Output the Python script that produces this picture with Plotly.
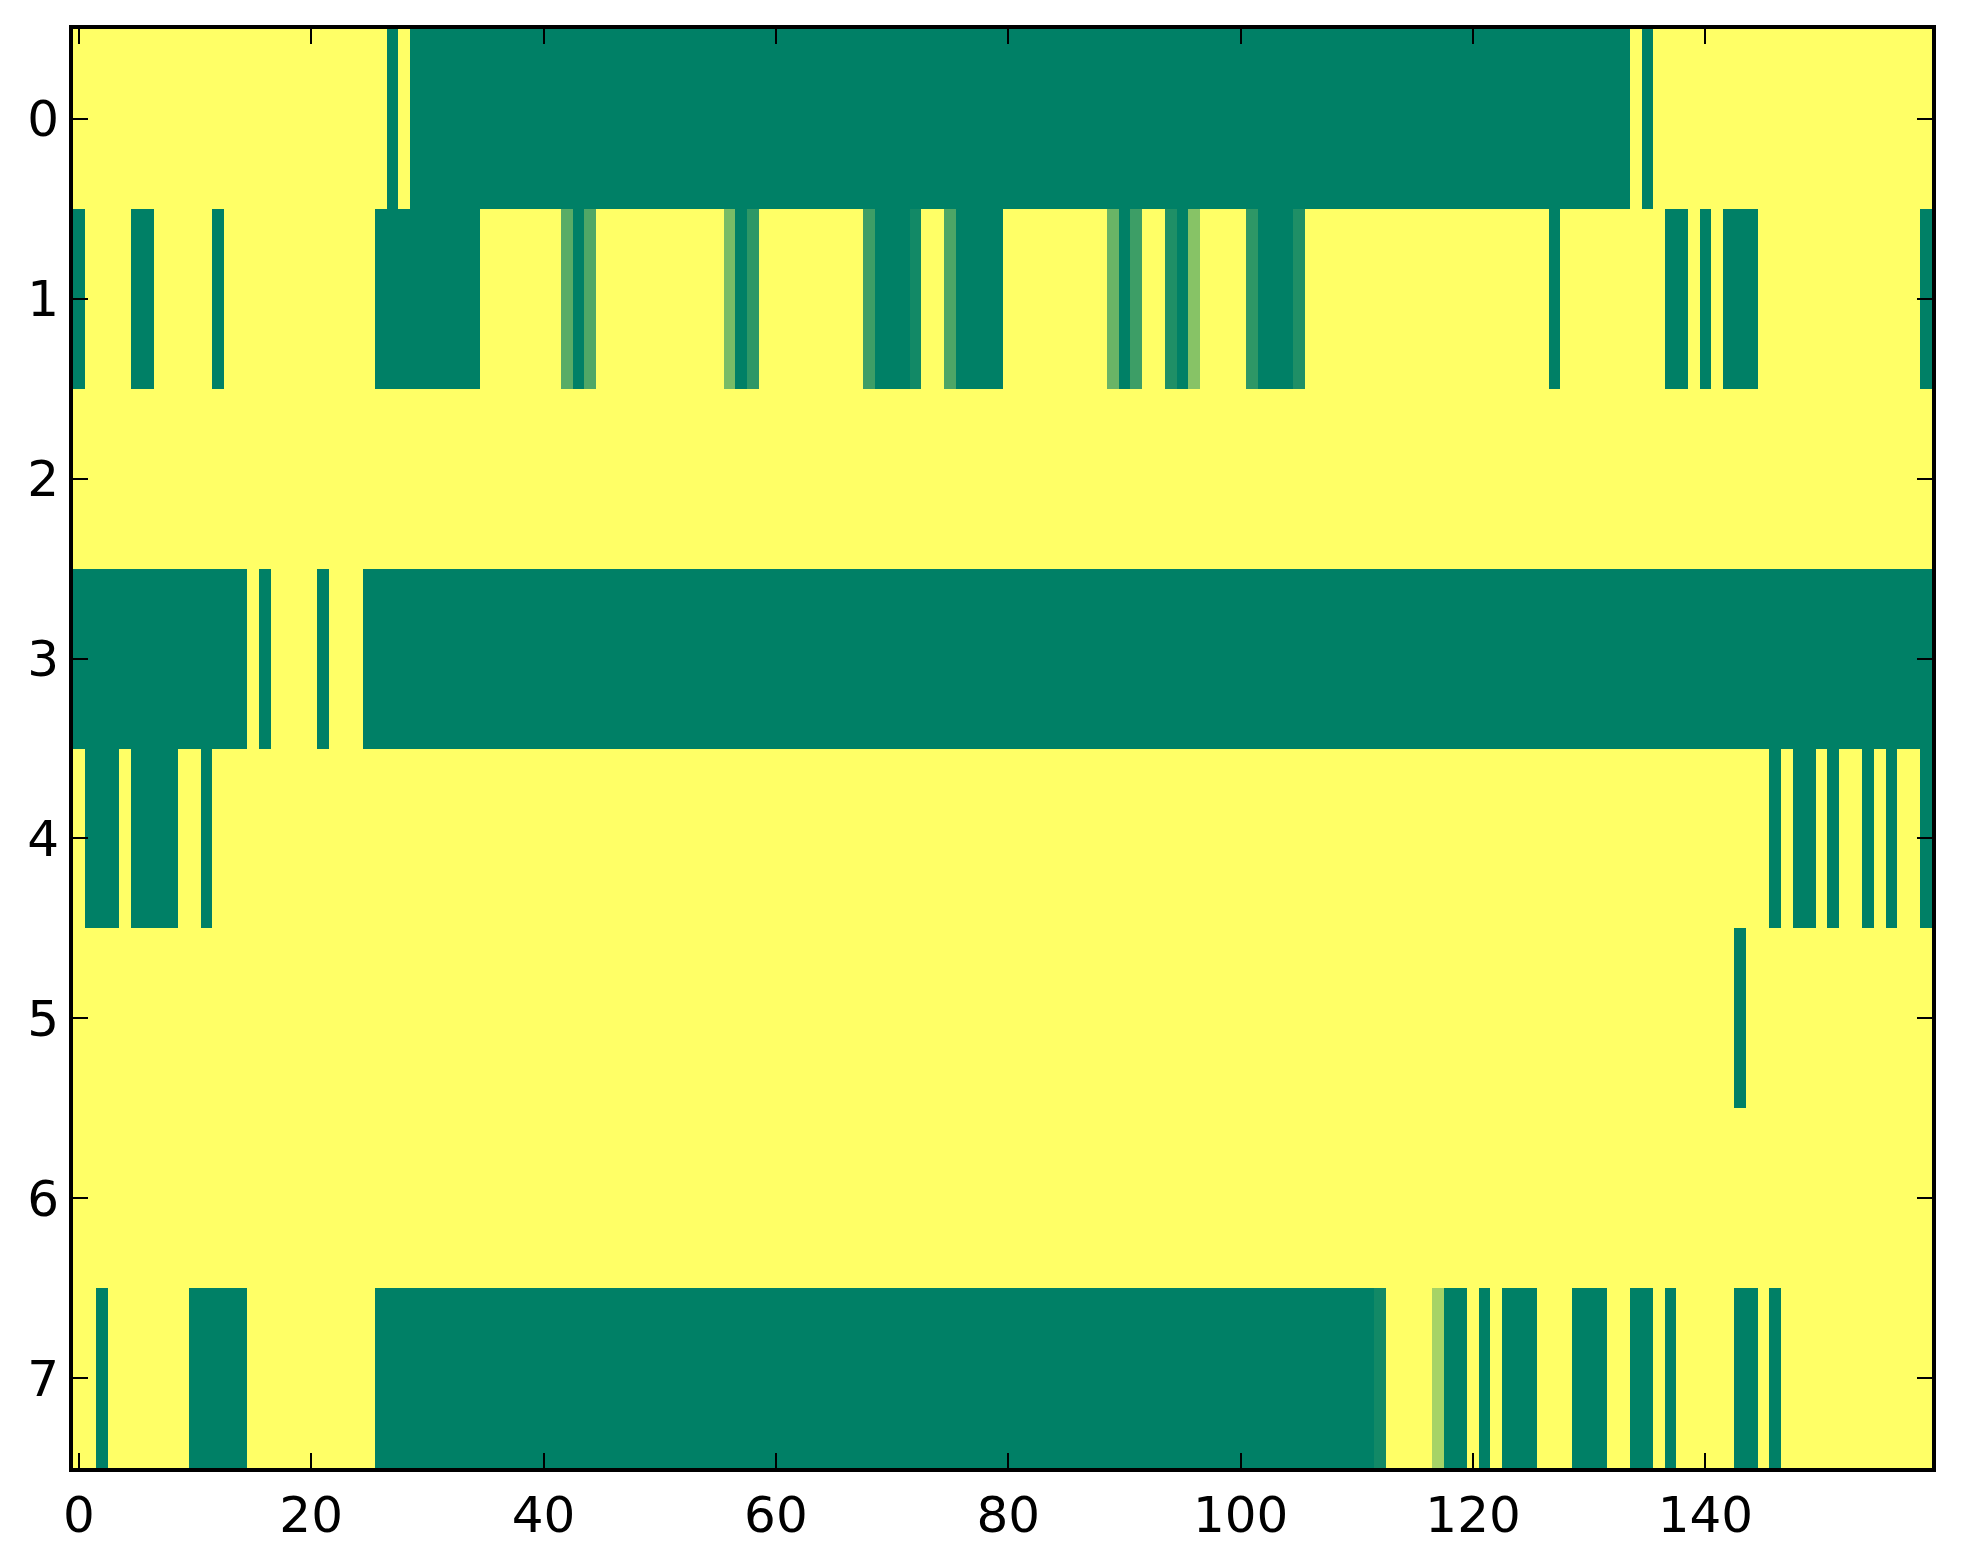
import plotly.graph_objects as go

# Column indices 0..159, row indices 0..7
col_index = list(range(160))
row_index = list(range(8))
x_tick_vals = [0, 20, 40, 60, 80, 100, 120, 140]
x_tick_text = ["0", "20", "40", "60", "80", "100", "120", "140"]
y_tick_vals = [0, 1, 2, 3, 4, 5, 6, 7]
y_tick_text = ["0", "1", "2", "3", "4", "5", "6", "7"]

row0 = [
    1, 1, 1, 1, 1, 1, 1, 1, 1, 1, 1, 1, 1, 1, 1, 1, 1, 1, 1, 1,
    1, 1, 1, 1, 1, 1, 1, 0, 1, 0, 0, 0, 0, 0, 0, 0, 0, 0, 0, 0,
    0, 0, 0, 0, 0, 0, 0, 0, 0, 0, 0, 0, 0, 0, 0, 0, 0, 0, 0, 0,
    0, 0, 0, 0, 0, 0, 0, 0, 0, 0, 0, 0, 0, 0, 0, 0, 0, 0, 0, 0,
    0, 0, 0, 0, 0, 0, 0, 0, 0, 0, 0, 0, 0, 0, 0, 0, 0, 0, 0, 0,
    0, 0, 0, 0, 0, 0, 0, 0, 0, 0, 0, 0, 0, 0, 0, 0, 0, 0, 0, 0,
    0, 0, 0, 0, 0, 0, 0, 0, 0, 0, 0, 0, 0, 0, 1, 0, 1, 1, 1, 1,
    1, 1, 1, 1, 1, 1, 1, 1, 1, 1, 1, 1, 1, 1, 1, 1, 1, 1, 1, 1,
]
row1 = [
    0, 1, 1, 1, 1, 0, 0, 1, 1, 1, 1, 1, 0, 1, 1, 1, 1, 1, 1, 1,
    1, 1, 1, 1, 1, 1, 0, 0, 0, 0, 0, 0, 0, 0, 0, 1, 1, 1, 1, 1,
    1, 1, 0.35, 0, 0.31, 1, 1, 1, 1, 1, 1, 1, 1, 1, 1, 1, 0.47, 0, 0.18, 1,
    1, 1, 1, 1, 1, 1, 1, 1, 0.24, 0, 0, 0, 0.07, 1, 1, 0.30, 0, 0, 0, 0,
    1, 1, 1, 1, 1, 1, 1, 1, 1, 0.41, 0, 0.24, 1, 1, 0.12, 0, 0.53, 1, 1, 1,
    1, 0.18, 0, 0, 0, 0.12, 1, 1, 1, 1, 1, 1, 1, 1, 1, 1, 1, 1, 1, 1,
    1, 1, 1, 1, 1, 1, 1, 0, 1, 1, 1, 1, 1, 1, 1, 1, 1, 0, 0, 1,
    0, 1, 0, 0, 0, 1, 1, 1, 1, 1, 1, 1, 1, 1, 1, 1, 1, 1, 1, 0,
]
row2 = [
    1, 1, 1, 1, 1, 1, 1, 1, 1, 1, 1, 1, 1, 1, 1, 1, 1, 1, 1, 1,
    1, 1, 1, 1, 1, 1, 1, 1, 1, 1, 1, 1, 1, 1, 1, 1, 1, 1, 1, 1,
    1, 1, 1, 1, 1, 1, 1, 1, 1, 1, 1, 1, 1, 1, 1, 1, 1, 1, 1, 1,
    1, 1, 1, 1, 1, 1, 1, 1, 1, 1, 1, 1, 1, 1, 1, 1, 1, 1, 1, 1,
    1, 1, 1, 1, 1, 1, 1, 1, 1, 1, 1, 1, 1, 1, 1, 1, 1, 1, 1, 1,
    1, 1, 1, 1, 1, 1, 1, 1, 1, 1, 1, 1, 1, 1, 1, 1, 1, 1, 1, 1,
    1, 1, 1, 1, 1, 1, 1, 1, 1, 1, 1, 1, 1, 1, 1, 1, 1, 1, 1, 1,
    1, 1, 1, 1, 1, 1, 1, 1, 1, 1, 1, 1, 1, 1, 1, 1, 1, 1, 1, 1,
]
row3 = [
    0, 0, 0, 0, 0, 0, 0, 0, 0, 0, 0, 0, 0, 0, 0, 1, 0, 1, 1, 1,
    1, 0, 1, 1, 1, 0, 0, 0, 0, 0, 0, 0, 0, 0, 0, 0, 0, 0, 0, 0,
    0, 0, 0, 0, 0, 0, 0, 0, 0, 0, 0, 0, 0, 0, 0, 0, 0, 0, 0, 0,
    0, 0, 0, 0, 0, 0, 0, 0, 0, 0, 0, 0, 0, 0, 0, 0, 0, 0, 0, 0,
    0, 0, 0, 0, 0, 0, 0, 0, 0, 0, 0, 0, 0, 0, 0, 0, 0, 0, 0, 0,
    0, 0, 0, 0, 0, 0, 0, 0, 0, 0, 0, 0, 0, 0, 0, 0, 0, 0, 0, 0,
    0, 0, 0, 0, 0, 0, 0, 0, 0, 0, 0, 0, 0, 0, 0, 0, 0, 0, 0, 0,
    0, 0, 0, 0, 0, 0, 0, 0, 0, 0, 0, 0, 0, 0, 0, 0, 0, 0, 0, 0,
]
row4 = [
    1, 0, 0, 0, 1, 0, 0, 0, 0, 1, 1, 0, 1, 1, 1, 1, 1, 1, 1, 1,
    1, 1, 1, 1, 1, 1, 1, 1, 1, 1, 1, 1, 1, 1, 1, 1, 1, 1, 1, 1,
    1, 1, 1, 1, 1, 1, 1, 1, 1, 1, 1, 1, 1, 1, 1, 1, 1, 1, 1, 1,
    1, 1, 1, 1, 1, 1, 1, 1, 1, 1, 1, 1, 1, 1, 1, 1, 1, 1, 1, 1,
    1, 1, 1, 1, 1, 1, 1, 1, 1, 1, 1, 1, 1, 1, 1, 1, 1, 1, 1, 1,
    1, 1, 1, 1, 1, 1, 1, 1, 1, 1, 1, 1, 1, 1, 1, 1, 1, 1, 1, 1,
    1, 1, 1, 1, 1, 1, 1, 1, 1, 1, 1, 1, 1, 1, 1, 1, 1, 1, 1, 1,
    1, 1, 1, 1, 1, 1, 0, 1, 0, 0, 1, 0, 1, 1, 0, 1, 0, 1, 1, 0,
]
row5 = [
    1, 1, 1, 1, 1, 1, 1, 1, 1, 1, 1, 1, 1, 1, 1, 1, 1, 1, 1, 1,
    1, 1, 1, 1, 1, 1, 1, 1, 1, 1, 1, 1, 1, 1, 1, 1, 1, 1, 1, 1,
    1, 1, 1, 1, 1, 1, 1, 1, 1, 1, 1, 1, 1, 1, 1, 1, 1, 1, 1, 1,
    1, 1, 1, 1, 1, 1, 1, 1, 1, 1, 1, 1, 1, 1, 1, 1, 1, 1, 1, 1,
    1, 1, 1, 1, 1, 1, 1, 1, 1, 1, 1, 1, 1, 1, 1, 1, 1, 1, 1, 1,
    1, 1, 1, 1, 1, 1, 1, 1, 1, 1, 1, 1, 1, 1, 1, 1, 1, 1, 1, 1,
    1, 1, 1, 1, 1, 1, 1, 1, 1, 1, 1, 1, 1, 1, 1, 1, 1, 1, 1, 1,
    1, 1, 1, 0, 1, 1, 1, 1, 1, 1, 1, 1, 1, 1, 1, 1, 1, 1, 1, 1,
]
row6 = [
    1, 1, 1, 1, 1, 1, 1, 1, 1, 1, 1, 1, 1, 1, 1, 1, 1, 1, 1, 1,
    1, 1, 1, 1, 1, 1, 1, 1, 1, 1, 1, 1, 1, 1, 1, 1, 1, 1, 1, 1,
    1, 1, 1, 1, 1, 1, 1, 1, 1, 1, 1, 1, 1, 1, 1, 1, 1, 1, 1, 1,
    1, 1, 1, 1, 1, 1, 1, 1, 1, 1, 1, 1, 1, 1, 1, 1, 1, 1, 1, 1,
    1, 1, 1, 1, 1, 1, 1, 1, 1, 1, 1, 1, 1, 1, 1, 1, 1, 1, 1, 1,
    1, 1, 1, 1, 1, 1, 1, 1, 1, 1, 1, 1, 1, 1, 1, 1, 1, 1, 1, 1,
    1, 1, 1, 1, 1, 1, 1, 1, 1, 1, 1, 1, 1, 1, 1, 1, 1, 1, 1, 1,
    1, 1, 1, 1, 1, 1, 1, 1, 1, 1, 1, 1, 1, 1, 1, 1, 1, 1, 1, 1,
]
row7 = [
    1, 1, 0, 1, 1, 1, 1, 1, 1, 1, 0, 0, 0, 0, 0, 1, 1, 1, 1, 1,
    1, 1, 1, 1, 1, 1, 0, 0, 0, 0, 0, 0, 0, 0, 0, 0, 0, 0, 0, 0,
    0, 0, 0, 0, 0, 0, 0, 0, 0, 0, 0, 0, 0, 0, 0, 0, 0, 0, 0, 0,
    0, 0, 0, 0, 0, 0, 0, 0, 0, 0, 0, 0, 0, 0, 0, 0, 0, 0, 0, 0,
    0, 0, 0, 0, 0, 0, 0, 0, 0, 0, 0, 0, 0, 0, 0, 0, 0, 0, 0, 0,
    0, 0, 0, 0, 0, 0, 0, 0, 0, 0, 0, 0, 0.07, 1, 1, 1, 1, 0.65, 0, 0,
    1, 0, 1, 0, 0, 0, 1, 1, 1, 0, 0, 0, 1, 1, 0, 0, 1, 0, 1, 1,
    1, 1, 1, 0, 0, 1, 0, 1, 1, 1, 1, 1, 1, 1, 1, 1, 1, 1, 1, 1,
]

z_rows = [row0, row1, row2, row3, row4, row5, row6, row7]

# matplotlib "summer" colormap endpoints
summer = [[0.0, "rgb(0,128,102)"], [1.0, "rgb(255,255,102)"]]

fig = go.Figure(
    go.Heatmap(
        z=z_rows,
        x=col_index,
        y=row_index,
        colorscale=summer,
        zmin=0,
        zmax=1,
        showscale=False,
        hoverongaps=False,
    )
)

font = dict(family="DejaVu Sans", size=50, color="black")
axis_common = dict(
    showgrid=False,
    zeroline=False,
    showline=True,
    linecolor="black",
    linewidth=4,
    mirror="allticks",
    ticks="inside",
    ticklen=15,
    tickwidth=1.5,
    tickcolor="black",
    tickfont=font,
)

# the page body adds an 8px margin, so the figure is sized to fit the window
fig.update_layout(
    width=1955,
    height=1556,
    margin=dict(l=65, r=31, t=21, b=96, pad=0),
    paper_bgcolor="white",
    plot_bgcolor="white",
    xaxis=dict(
        range=[-0.5, 159.5],
        tickmode="array",
        tickvals=x_tick_vals,
        ticktext=x_tick_text,
        **axis_common,
    ),
    yaxis=dict(
        range=[7.5, -0.5],
        tickmode="array",
        tickvals=y_tick_vals,
        ticktext=y_tick_text,
        **axis_common,
    ),
)

fig.write_html("out.html")
